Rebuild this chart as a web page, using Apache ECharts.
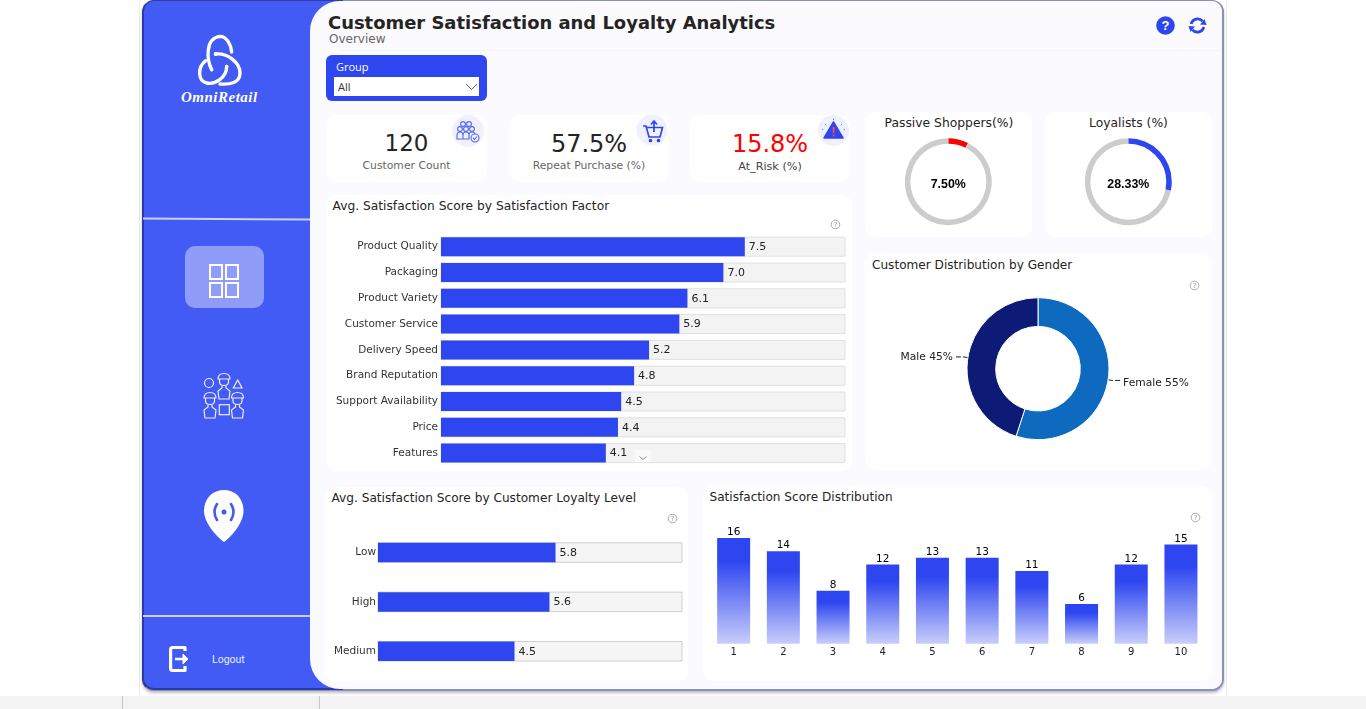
<!DOCTYPE html>
<html><head><meta charset="utf-8">
<script src="https://cdn.jsdelivr.net/npm/echarts@6/dist/echarts.min.js"></script>
<style>
html,body{margin:0;padding:0;width:1366px;height:709px;overflow:hidden;background:#fff;font-family:"DejaVu Sans",sans-serif;}
.a{position:absolute;box-sizing:border-box;}
.t{position:absolute;white-space:nowrap;line-height:1;}
.card{position:absolute;background:#fff;border-radius:10px;}
#chart{position:absolute;left:0;top:0;width:1366px;height:709px;}
svg{position:absolute;overflow:visible;}
</style></head><body>
<div class="a" style="left:0;top:696px;width:1366px;height:13px;background:#f3f3f3"></div>
<div class="a" style="left:122px;top:696px;width:1px;height:13px;background:#c8c8c8"></div>
<div class="a" style="left:319px;top:696px;width:1px;height:13px;background:#c8c8c8"></div>
<div class="a" style="left:139px;top:0;width:1px;height:696px;background:#ededed"></div>
<div class="a" style="left:1226px;top:0;width:1px;height:696px;background:#ededed"></div>
<!-- frame -->
<div class="a" style="left:142px;top:0;width:1081.500px;height:691px;background:#FAFAFF;border-radius:12px;border:2px solid #8a90b8;border-left-color:#2b3ba6;box-shadow:0 2px 3px rgba(60,60,90,.35)"></div>
<div class="a" style="left:143px;top:0;width:200px;height:690px;background:#425BF5;border-radius:11px 0 0 11px;border-left:1px solid #2b3ba6;border-bottom:2px solid #2b3ba6;border-top:1px solid #2f3f9f"></div>
<div class="a" style="left:310px;top:1px;width:911.500px;height:688px;background:#FAFAFF;border-radius:30px 10px 10px 30px"></div>
<div class="a" style="left:340px;top:50px;width:881px;height:1px;background:#f4f4fb"></div>
<div class="a" style="left:143px;top:218px;width:167px;height:2px;background:#c9d0fb;transform:rotate(.3deg)"></div>
<div class="a" style="left:143px;top:615px;width:167px;height:2px;background:#c9d0fb"></div>
<div class="a" style="left:185px;top:246px;width:79px;height:62px;background:#8F9DF9;border-radius:10px"></div>

<!-- logo -->
<svg style="left:175px;top:28px" width="90" height="80" viewBox="0 0 270 240" fill="none" stroke="#fff" stroke-width="10" stroke-linecap="round">
<path d="M110 125 C95 95 90 30 135 25 C155 25 168 50 170 72"/>
<path d="M122 78 C160 75 195 105 195 135 C195 165 165 170 135 168"/>
<path d="M155 115 C155 150 120 170 95 165 C70 160 65 120 92 98"/>
<circle cx="110" cy="125" r="5" fill="#fff" stroke="none"/><circle cx="122" cy="78" r="6" fill="#fff" stroke="none"/><circle cx="155" cy="115" r="5" fill="#fff" stroke="none"/>
</svg>
<div class="t" style="left:181px;top:90px;font:italic bold 15px/1 'Liberation Serif',serif;color:#fff;letter-spacing:.5px">OmniRetail</div>

<!-- grid icon -->
<svg style="left:209px;top:264px" width="30" height="34" fill="none" stroke="#fff" stroke-width="2"><rect x="1" y="1" width="12" height="14"/><rect x="17" y="1" width="12" height="14"/><rect x="1" y="19" width="12" height="14"/><rect x="17" y="19" width="12" height="14"/></svg>
<!-- people icon -->
<svg style="left:0;top:0" width="1366" height="709" fill="none" stroke="#fff" stroke-width="1.2" opacity=".9">
<defs><g id="person"><path d="M-6 -1 Q-6 -6.500 0 -6.500 Q6 -6.500 6 -1 Z M-4.500 -1 V2 Q-4.500 5.500 0 5.500 Q4.500 5.500 4.500 2 V-1 M-2 6 V8 L-6 11 L-5 19 H5 L6 11 L2 8 V6"/></g></defs>
<circle cx="209" cy="383" r="4.500"/><path d="M237.700 380 L242 388 H233.300 Z"/><rect x="219.300" y="404.700" width="10" height="10"/>
<use href="#person" x="224" y="380"/><use href="#person" x="210" y="399"/><use href="#person" x="237.500" y="399"/>
</svg>
<!-- pin icon -->
<svg style="left:203px;top:489px" width="42" height="56"><path d="M21 1 C32 1 40.500 9 40.500 22 C40.500 34 28 48 21 53 C14 48 1 34 1 22 C1 9 10 1 21 1 Z" fill="#fff"/><circle cx="21" cy="23" r="2.500" fill="#425BF5"/><path d="M14 15 Q9 23 14 31 M28 15 Q33 23 28 31" stroke="#425BF5" stroke-width="2.600" fill="none" stroke-linecap="round"/></svg>
<!-- logout -->
<svg style="left:169px;top:645px" width="22" height="28" fill="none" stroke="#fff" stroke-width="3.200" stroke-linejoin="round"><path d="M16 6 V2.500 H3.500 Q1.600 2.500 1.600 4.500 V23.500 Q1.600 25.500 3.500 25.500 H16 V21"/><path d="M6 14 H15" stroke-width="2.500"/><path d="M14 9 L19 14 L14 19 Z" fill="#fff" stroke-width="1"/></svg>
<div class="t" style="left:212px;top:655px;font:10.5px/1 Roboto,sans-serif;color:#e8ebff">Logout</div>

<!-- header -->
<div class="t" style="left:328px;top:14px;font-weight:bold;font-size:17.95px;color:#252423">Customer Satisfaction and Loyalty Analytics</div>
<div class="t" style="left:329px;top:33px;font-size:12px;color:#666">Overview</div>
<svg style="left:1156px;top:16px" width="19" height="19"><circle cx="9.500" cy="9.500" r="9.300" fill="#2E46F0"/><text x="9.500" y="14" text-anchor="middle" font-family="Liberation Sans" font-weight="bold" font-size="13" fill="#fff">?</text></svg>
<svg style="left:1188px;top:16px" width="19" height="19" fill="none" stroke="#2E46F0" stroke-width="2.800"><path d="M3.200 8 A6.500 6.500 0 0 1 14.500 5.200"/><path d="M15.800 11 A6.500 6.500 0 0 1 4.500 13.800"/><path d="M18.500 9 L12 8.500 L16.500 3 Z M.5 10 L7 10.500 L2.500 16 Z" fill="#2E46F0" stroke="none"/></svg>

<!-- slicer -->
<div class="a" style="left:326px;top:55px;width:161px;height:46px;background:#2E46F0;border-radius:6px"></div>
<div class="t" style="left:336px;top:61px;font:11px/1 'Open Sans',sans-serif;color:#fff">Group</div>
<div class="a" style="left:334px;top:77px;width:145px;height:19px;background:#fff"></div>
<div class="t" style="left:338px;top:81px;font:11px/1 'Open Sans',sans-serif;color:#333">All</div>
<svg style="left:465px;top:83px" width="13" height="8" fill="none" stroke="#666"><path d="M1 1 L6.500 6.500 L12 1"/></svg>

<!-- KPI cards -->
<div class="card" style="left:326px;top:115px;width:161px;height:67px"></div>
<div class="card" style="left:509px;top:115px;width:160px;height:67px"></div>
<div class="card" style="left:690px;top:115px;width:160px;height:67px"></div>
<div class="t kpi" style="left:326px;width:161px;top:132px;text-align:center;font-size:23px;color:#252525" id="k1"></div>
<div class="t kpi" style="left:509px;width:160px;top:132px;text-align:center;font-size:24px;color:#252525" id="k2"></div>
<div class="t kpi" style="left:690px;width:160px;top:132px;text-align:center;font-size:24px;color:#ff0000" id="k3"></div>
<div class="t" style="left:326px;width:161px;top:160.500px;text-align:center;font-size:10.8px;color:#666">Customer Count</div>
<div class="t" style="left:509px;width:160px;top:160.500px;text-align:center;font-size:10.8px;color:#666">Repeat Purchase (%)</div>
<div class="t" style="left:690px;width:160px;top:160.500px;text-align:center;font-size:11.2px;color:#444">At_Risk (%)</div>
<svg style="left:452px;top:115px" width="32" height="32" fill="none" stroke="#5068F0" stroke-width="1.100"><circle cx="16" cy="16" r="16" fill="#F0F1FE" stroke="none"/>
<circle cx="11" cy="9" r="2.400"/><circle cx="17" cy="9" r="2.400"/><circle cx="8" cy="14" r="2.400"/><circle cx="14" cy="14" r="2.400"/><circle cx="20" cy="14" r="2.400"/><path d="M5 24 V20 Q5 17 8 17 Q11 17 11 20 V24 Z M11 24 V20 Q11 17 14 17 Q17 17 17 20 V24 Z M17 22 V20 Q17 17 20 17 Q23 17 23 20"/><circle cx="23" cy="23" r="4" fill="#F0F1FE"/><path d="M21 23 L22.500 24.500 L25 21.500"/></svg>
<svg style="left:637px;top:115px" width="32" height="32" fill="none" stroke="#2E46F0" stroke-width="1.700"><circle cx="15" cy="15" r="15.500" fill="#F0F1FE" stroke="none"/><path d="M6 11 H9 L12 22 H23 L25.500 12.500 H10"/><circle cx="13.500" cy="25.500" r="1" fill="#2E46F0"/><circle cx="21.500" cy="25.500" r="1" fill="#2E46F0"/><path d="M17 17 V7 M14 9.500 L17 6 L20 9.500"/></svg>
<svg style="left:818px;top:115px" width="32" height="32"><circle cx="15.500" cy="15.500" r="15.500" fill="#F0F1FE"/><path d="M15.500 7 L25 23 H6 Z" fill="#2E46F0" stroke="#2E46F0" stroke-width="1.500" stroke-linejoin="round"/><rect x="14.700" y="12" width="1.800" height="6" fill="#ff5030"/><rect x="14.700" y="19.500" width="1.800" height="1.800" fill="#ff5030"/><path d="M7 9 L9 11 M15.500 3.500 V5.500 M24 9 L22 11 M4 14 L6 15 M27 14 L25 15" stroke="#7080f0" stroke-width="1" stroke-dasharray="1.500 1"/></svg>

<!-- chart cards -->
<div class="card" style="left:326px;top:195px;width:526px;height:276px"></div>
<div class="card" style="left:865px;top:112px;width:167px;height:125px"></div>
<div class="card" style="left:1045px;top:112px;width:167px;height:125px"></div>
<div class="card" style="left:865px;top:253px;width:346px;height:217px"></div>
<div class="card" style="left:325px;top:487px;width:363px;height:195px"></div>
<div class="card" style="left:703px;top:486px;width:509px;height:195px"></div>
<div class="t" style="left:332.500px;top:199.500px;font-size:12.25px;color:#252423">Avg. Satisfaction Score by Satisfaction Factor</div>
<div class="t" style="left:884.500px;top:116.500px;font-size:12.35px;color:#252423">Passive Shoppers(%)</div>
<div class="t" style="left:1089px;top:116.500px;font-size:12.35px;color:#252423">Loyalists (%)</div>
<div class="t" style="left:872px;top:258.500px;font-size:12.1px;color:#252423">Customer Distribution by Gender</div>
<div class="t" style="left:331.500px;top:491.500px;font-size:12.15px;color:#252423">Avg. Satisfaction Score by Customer Loyalty Level</div>
<div class="t" style="left:709.500px;top:490.500px;font-size:12.1px;color:#252423">Satisfaction Score Distribution</div>
<svg style="left:830px;top:218.500px" width="11" height="11"><circle cx="5.500" cy="5.500" r="4.300" fill="none" stroke="#aaa"/><text x="5.500" y="8" text-anchor="middle" font-size="7" fill="#999">?</text></svg>
<svg style="left:1189px;top:279.500px" width="11" height="11"><circle cx="5.500" cy="5.500" r="4.300" fill="none" stroke="#aaa"/><text x="5.500" y="8" text-anchor="middle" font-size="7" fill="#999">?</text></svg>
<svg style="left:667px;top:512.500px" width="11" height="11"><circle cx="5.500" cy="5.500" r="4.300" fill="none" stroke="#aaa"/><text x="5.500" y="8" text-anchor="middle" font-size="7" fill="#999">?</text></svg>
<svg style="left:1190px;top:511.500px" width="11" height="11"><circle cx="5.500" cy="5.500" r="4.300" fill="none" stroke="#aaa"/><text x="5.500" y="8" text-anchor="middle" font-size="7" fill="#999">?</text></svg>

<div id="chart"></div>
<div class="a" style="left:635px;top:450px;width:16px;height:12px;background:#f9f9f9"></div>
<svg style="left:639px;top:456px" width="8" height="5" fill="none" stroke="#777" stroke-width=".8"><path d="M.5 .5 L4 3.500 L7.500 .5"/></svg>

<script>
var factorCategories = ['Product Quality','Packaging','Product Variety','Customer Service','Delivery Speed','Brand Reputation','Support Availability','Price','Features'];
var factorValues = [7.52,6.99,6.1,5.9,5.15,4.78,4.46,4.38,4.08];
var loyaltyLevels = ['Low','High','Medium'];
var loyaltyValues = [5.84,5.64,4.49];
var scoreBins = ['1','2','3','4','5','6','7','8','9','10'];
var scoreCounts = [16,14,8,12,13,13,11,6,12,15];
var genderLabels = ['Female','Male'];
var genderValues = [55,45];
var passivePct = 7.5;
var loyalistPct = 28.33;
var customerCount = '120';
var repeatPurchase = '57.5%';
var atRisk = '15.8%';

document.getElementById('k1').textContent = customerCount;
document.getElementById('k2').textContent = repeatPurchase;
document.getElementById('k3').textContent = atRisk;

var BLUE = '#2E46F0', FONT = '"DejaVu Sans"';
var barLabel = {show:true, position:'right', distance:4, fontFamily:FONT, fontSize:11, color:'#222', offset:[0,0.5], formatter:function(p){return p.value.toFixed(1);}};
function catAxis(margin){
  return {type:'category', inverse:true, axisLine:{show:false}, axisTick:{show:false},
    axisLabel:{margin:margin, padding:[2,0,0,0], fontFamily:FONT, fontSize:10.5, color:'#333'}};
}

function ring(value, color, cx){
  return {type:'pie', silent:true, center:[cx,181.7], radius:[38,43.5], startAngle:90, clockwise:true, animation:false,
    label:{show:false}, labelLine:{show:false},
    data:[
      {value:value, itemStyle:{color:color}, label:{show:true, position:'center', offset:[0,2.5], formatter:value.toFixed(2)+'%', fontFamily:'"Liberation Sans"', fontWeight:'bold', fontSize:12.4, color:'#000'}},
      {value:100-value, itemStyle:{color:'#CCCCCC'}}
    ]};
}

var chart = echarts.init(document.getElementById('chart'), null, {renderer:'canvas'});
chart.setOption({
  animation:false,
  backgroundColor:'transparent',
  grid:[
    {left:441, top:233.8, width:404, height:232.2},
    {left:378, top:527.9, width:304, height:148},
    {left:708.8, top:538, width:497, height:105.7}
  ],
  xAxis:[
    {gridIndex:0, type:'value', min:0, max:10, show:false},
    {gridIndex:1, type:'value', min:0, max:10, show:false},
    {gridIndex:2, type:'category', data:scoreBins, axisLine:{show:false}, axisTick:{show:false},
     axisLabel:{margin:4, fontFamily:FONT, fontSize:10, color:'#222', interval:0}}
  ],
  yAxis:[
    Object.assign({gridIndex:0, data:factorCategories}, catAxis(3)),
    Object.assign({gridIndex:1, data:loyaltyLevels}, catAxis(2)),
    {gridIndex:2, type:'value', min:0, max:16, show:false}
  ],
  series:[
    {type:'bar', xAxisIndex:0, yAxisIndex:0, data:factorValues, barWidth:19, itemStyle:{color:BLUE}, showBackground:true, backgroundStyle:{color:'#f4f3f3', borderColor:'#e0e0e0', borderWidth:1}, label:barLabel},
    {type:'bar', xAxisIndex:1, yAxisIndex:1, data:loyaltyValues, barWidth:19.5, itemStyle:{color:BLUE}, showBackground:true, backgroundStyle:{color:'#f6f5f5', borderColor:'#cfcfcf', borderWidth:1}, label:barLabel},
    {type:'bar', xAxisIndex:2, yAxisIndex:2, data:scoreCounts, barWidth:33,
     itemStyle:{color:new echarts.graphic.LinearGradient(0,0,0,1,[{offset:0,color:BLUE},{offset:.22,color:BLUE},{offset:1,color:'#C8CEFA'}])},
     label:{show:true, position:'top', distance:1, fontFamily:FONT, fontSize:10.5, color:'#000', offset:[0,1]}},
    {type:'pie', center:[1038,368.7], radius:[42.3,71], startAngle:90, clockwise:true,
     itemStyle:{borderColor:'#fff', borderWidth:1},
     label:{formatter:'{b} {c}%', fontFamily:FONT, fontSize:10.7, color:'#222'},
     labelLine:{length:4, length2:8, lineStyle:{color:'#222', width:1, type:[5,2]}},
     data:genderLabels.map(function(n,i){return {name:n, value:genderValues[i], itemStyle:{color:i===0?'#0D6ABF':'#0D1B76'}, label:{offset:i===0?[-2,3]:[2,0]}};})},
    ring(passivePct,'#FF0000',948.3),
    ring(loyalistPct,BLUE,1128.3)
  ]
});
</script>
</body></html>
